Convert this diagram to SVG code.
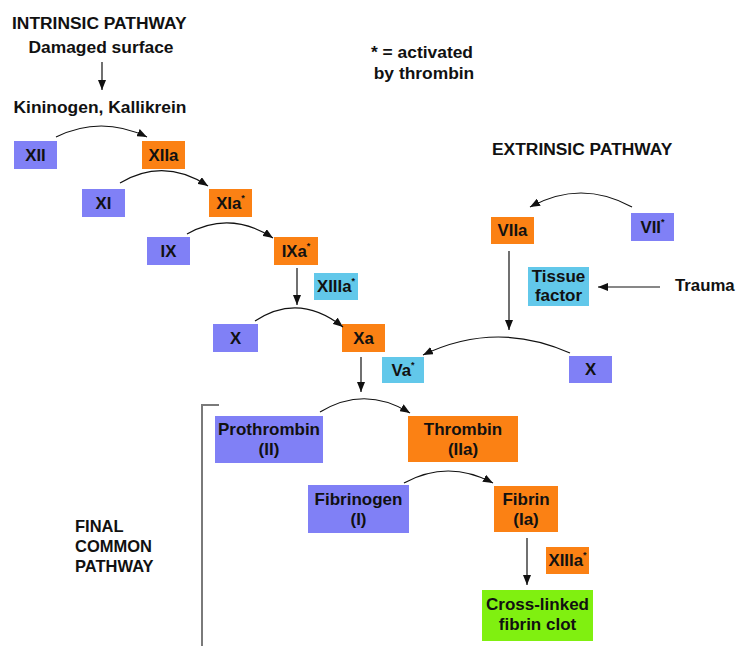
<svg xmlns="http://www.w3.org/2000/svg" width="736" height="646" viewBox="0 0 736 646">
<defs>
<marker id="ah" markerUnits="userSpaceOnUse" markerWidth="10" markerHeight="8" refX="10" refY="4" orient="auto">
<path d="M0,0 L10,4 L0,8 z" fill="#111"/>
</marker>
<style>
text{font-family:"Liberation Sans",Arial,sans-serif;font-weight:bold;fill:#111}
.t{font-size:17.4px}
.b{font-size:16.8px;text-anchor:middle}
.b2{font-size:17px;text-anchor:middle}
.s{font-size:9px}
.blue{fill:#8080F6}
.org{fill:#FB8114}
.cyan{fill:#62C8EA}
.grn{fill:#80F010}
.c path,.c line{stroke:#111;stroke-width:1.2;fill:none;marker-end:url(#ah)}
</style>
</defs>
<rect width="736" height="646" fill="#fff"/>

<g id="labels">
<text class="t" x="12" y="29">INTRINSIC PATHWAY</text>
<text class="t" x="101" y="53" text-anchor="middle">Damaged surface</text>
<text class="t" x="100" y="113" text-anchor="middle">Kininogen, Kallikrein</text>
<text class="t" x="422" y="58" text-anchor="middle">* = activated</text>
<text class="t" x="424" y="79" text-anchor="middle">by thrombin</text>
<text class="t" x="492" y="155">EXTRINSIC PATHWAY</text>
<text x="675" y="291" style="font-size:16.8px">Trauma</text>
<text x="75" y="532" style="font-size:16.5px">FINAL</text>
<text x="75" y="552" style="font-size:16.5px">COMMON</text>
<text x="75" y="572" style="font-size:16.5px">PATHWAY</text>
</g>

<g id="bracket">
<path d="M219,405 L202,405 L202,646" fill="none" stroke="#7a7a7a" stroke-width="2"/>
</g>

<g id="XII"><rect class="blue" x="14" y="141" width="43" height="28"/><text class="b" x="35.5" y="161">XII</text></g>
<g id="XIIa"><rect class="org" x="142" y="141" width="43" height="28"/><text class="b" x="163.5" y="161">XIIa</text></g>
<g id="XI"><rect class="blue" x="82" y="189" width="43" height="28"/><text class="b" x="103.5" y="209">XI</text></g>
<g id="XIa"><rect class="org" x="209" y="189" width="43" height="28"/><text class="b" x="230.5" y="209">XIa<tspan class="s" dy="-8">*</tspan></text></g>
<g id="IX"><rect class="blue" x="147" y="237" width="43" height="28"/><text class="b" x="168.5" y="257">IX</text></g>
<g id="IXa"><rect class="org" x="274" y="237" width="44" height="28"/><text class="b" x="296" y="257">IXa<tspan class="s" dy="-8">*</tspan></text></g>
<g id="XIIIa1"><rect class="cyan" x="314" y="273" width="44" height="27"/><text class="b" x="336" y="292">XIIIa<tspan class="s" dy="-8">*</tspan></text></g>
<g id="X1"><rect class="blue" x="213" y="324" width="45" height="28"/><text class="b" x="235.5" y="344">X</text></g>
<g id="Xa"><rect class="org" x="342" y="324" width="43" height="28"/><text class="b" x="363.5" y="344">Xa</text></g>
<g id="VIIa"><rect class="org" x="491" y="217" width="43" height="27"/><text class="b" x="512.5" y="236">VIIa</text></g>
<g id="VII"><rect class="blue" x="631" y="213" width="43" height="28"/><text class="b" x="652.5" y="233">VII<tspan class="s" dy="-8">*</tspan></text></g>
<g id="TF"><rect class="cyan" x="528" y="267" width="61" height="39"/><text class="b2" x="558.5" y="282">Tissue</text><text class="b2" x="558.5" y="301">factor</text></g>
<g id="Va"><rect class="cyan" x="382" y="357" width="42" height="26"/><text class="b" x="403" y="376">Va<tspan class="s" dy="-8">*</tspan></text></g>
<g id="X2"><rect class="blue" x="569" y="356" width="43" height="27"/><text class="b" x="590.5" y="375">X</text></g>
<g id="Prothrombin"><rect class="blue" x="215" y="416" width="108" height="47"/><text class="b2" x="269" y="435">Prothrombin</text><text class="b2" x="269" y="455">(II)</text></g>
<g id="Thrombin"><rect class="org" x="408" y="416" width="110" height="46"/><text class="b2" x="463" y="435">Thrombin</text><text class="b2" x="463" y="455">(IIa)</text></g>
<g id="Fibrinogen"><rect class="blue" x="308" y="485" width="101" height="48"/><text class="b2" x="358.5" y="505">Fibrinogen</text><text class="b2" x="358.5" y="525">(I)</text></g>
<g id="Fibrin"><rect class="org" x="494" y="486" width="64" height="46"/><text class="b2" x="526" y="505">Fibrin</text><text class="b2" x="526" y="525">(Ia)</text></g>
<g id="XIIIa2"><rect class="org" x="546" y="547" width="43" height="27"/><text class="b" x="567.5" y="566">XIIIa<tspan class="s" dy="-8">*</tspan></text></g>
<g id="Clot"><rect class="grn" x="482" y="590" width="111" height="51"/><text class="b2" x="537.5" y="610">Cross-linked</text><text class="b2" x="537.5" y="630">fibrin clot</text></g>

<g id="connectors" class="c">
<line x1="102" y1="62" x2="102" y2="90"/>
<path d="M56,137 Q101,115 147,137"/>
<path d="M120,183 Q164,157 208,186"/>
<path d="M187,234 Q230,210 273,238"/>
<line x1="297" y1="268" x2="297" y2="305"/>
<path d="M255,321 Q299,292 343,327"/>
<path d="M632,207 Q581,179 530,207"/>
<line x1="509" y1="251" x2="509" y2="330"/>
<line x1="660" y1="287" x2="598" y2="287"/>
<path d="M570,353 Q496,320 423,355"/>
<line x1="361" y1="357" x2="361" y2="392"/>
<path d="M320,412 Q365,385 410,413"/>
<path d="M404,483 Q448,459 493,483"/>
<line x1="527" y1="538" x2="527" y2="585"/>
</g>
</svg>
